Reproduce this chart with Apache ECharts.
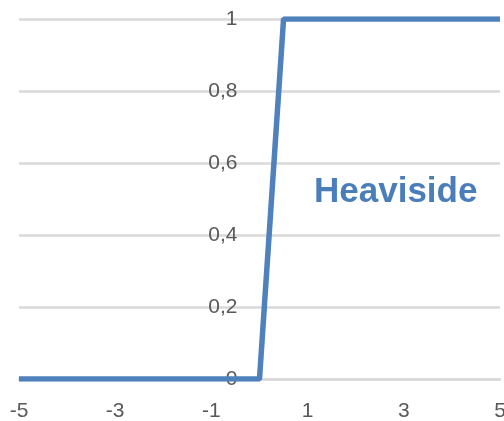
<!DOCTYPE html>
<html>
<head>
<meta charset="utf-8">
<script src="https://cdn.jsdelivr.net/npm/echarts@6/dist/echarts.min.js"></script>
<style>
  html, body { margin: 0; padding: 0; background: #fff; }
  #chart { width: 504px; height: 421px; }
</style>
</head>
<body>
<div id="chart"></div>
<script>
// Heaviside step sampled every 0.5 on [-5, 5]
const xValues = [-5, -4.5, -4, -3.5, -3, -2.5, -2, -1.5, -1, -0.5, 0, 0.5, 1, 1.5, 2, 2.5, 3, 3.5, 4, 4.5, 5];
const yValues = [0, 0, 0, 0, 0, 0, 0, 0, 0, 0, 0, 1, 1, 1, 1, 1, 1, 1, 1, 1, 1];
const xTickLabels = [-5, -3, -1, 1, 3, 5];
const yTickLabels = ['0', '0,2', '0,4', '0,6', '0,8', '1'];
const seriesName = 'Heaviside';

const points = xValues.map((x, i) => [x, yValues[i]]);
const labelFont = { color: '#595959', fontSize: 21, fontFamily: 'Liberation Sans' };

const gridLeft = 19, gridRight = 4;
const plotWidth = 504 - gridLeft - gridRight;
// vertical axis sits where x = 0
const yAxisShift = plotWidth * (0 - (-5)) / 10;

const chart = echarts.init(document.getElementById('chart'));
chart.setOption({
  animation: false,
  title: {
    text: seriesName,
    left: 309,
    top: 170,
    textStyle: { color: '#4a7ebb', fontSize: 35, fontWeight: 'bold', fontFamily: 'Liberation Sans' }
  },
  grid: { left: gridLeft, right: gridRight, top: 19, bottom: 42, containLabel: false, outerBoundsMode: 'none' },
  xAxis: {
    type: 'value',
    min: -5, max: 5, interval: 1,
    axisLine: { show: true, onZero: true, lineStyle: { color: '#d9d9d9', width: 2.5 } },
    axisTick: { show: false },
    splitLine: { show: false },
    axisLabel: Object.assign({
      margin: 22,
      showMinLabel: true, showMaxLabel: true,
      formatter: v => (xTickLabels.indexOf(v) >= 0 ? String(v) : '')
    }, labelFont)
  },
  yAxis: {
    type: 'value',
    min: 0, max: 1, interval: 0.2,
    position: 'left',
    offset: -yAxisShift,
    axisLine: { show: false },
    axisTick: { show: false },
    splitLine: { show: true, lineStyle: { color: '#d9d9d9', width: 2.5 } },
    axisLabel: Object.assign({
      margin: 22,
      formatter: v => yTickLabels[Math.round(v * 5)]
    }, labelFont)
  },
  series: [{
    name: seriesName,
    type: 'line',
    data: points,
    showSymbol: false,
    lineStyle: { color: '#4f81bd', width: 5.5 },
    z: 3
  }]
});
</script>
</body>
</html>
